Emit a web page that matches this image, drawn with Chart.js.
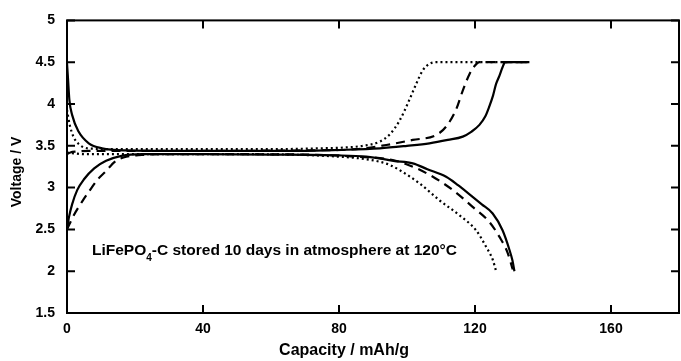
<!DOCTYPE html>
<html>
<head>
<meta charset="utf-8">
<script src="https://cdn.jsdelivr.net/npm/chart.js@4.4.1/dist/chart.umd.min.js"></script>
<style>
  html, body { margin: 0; padding: 0; background: #fff; }
  #wrap { width: 681px; height: 361px; }
</style>
</head>
<body>
<div id="wrap"><canvas id="chart" width="681" height="361"></canvas></div>
<script>
// tick values
const xTicks = [0, 40, 80, 120, 160];
const yTicks = [1.5, 2, 2.5, 3, 3.5, 4, 4.5, 5];

// solid line (charge rises to 4.5 V, discharge falls to 2 V)
const solidUpX = [0, 0.3, 0.7, 1.5, 3.4, 6.4, 10.3, 17, 30, 50, 70, 80, 92, 100, 106.6, 112, 116.4, 119, 121.3, 123, 124.2, 125.3, 126.2, 127.2, 128.1, 128.9, 136];
const solidUpY = [4.49, 4.3, 4.05, 3.87, 3.67, 3.53, 3.47, 3.445, 3.44, 3.44, 3.44, 3.45, 3.47, 3.5, 3.53, 3.57, 3.61, 3.67, 3.75, 3.85, 3.97, 4.1, 4.24, 4.34, 4.44, 4.5, 4.5];
const solidDownX = [0, 0.6, 1.5, 3, 5, 8, 11.5, 16, 22, 40, 60, 80, 88, 91.9, 96, 101.7, 106, 111.5, 115, 119.3, 122, 125.2, 128.1, 130.1, 131, 131.6];
const solidDownY = [2.5, 2.65, 2.8, 2.97, 3.1, 3.23, 3.32, 3.38, 3.4, 3.4, 3.395, 3.385, 3.37, 3.35, 3.32, 3.29, 3.22, 3.13, 3.03, 2.89, 2.8, 2.69, 2.49, 2.26, 2.13, 2.0];

// dashed line
const dashUpX = [0, 1, 2.5, 10, 40, 70, 85, 93.9, 101.7, 108.6, 111.5, 114.4, 116.4, 118.4, 120, 121.3, 136];
const dashUpY = [3.4, 3.42, 3.43, 3.44, 3.44, 3.445, 3.46, 3.51, 3.57, 3.63, 3.73, 3.93, 4.16, 4.36, 4.46, 4.5, 4.5];
const dashDownX = [0, 2, 4.4, 6.4, 9.3, 11.3, 14.1, 16.6, 22, 30, 40, 70, 85, 95.8, 101.7, 107.6, 113.5, 119.3, 124.2, 127.2, 129.6, 131.1];
const dashDownY = [2.5, 2.67, 2.83, 2.95, 3.11, 3.19, 3.31, 3.36, 3.39, 3.4, 3.4, 3.395, 3.37, 3.33, 3.25, 3.13, 2.97, 2.77, 2.59, 2.41, 2.22, 2.02];

// dotted line
const dotUpX = [0, 0.8, 2, 3.5, 5, 8, 15, 60, 75, 82, 87, 92, 95, 97.8, 100.7, 102.7, 104.6, 106.6, 108.6, 136];
const dotUpY = [3.93, 3.75, 3.6, 3.52, 3.48, 3.465, 3.46, 3.46, 3.47, 3.48, 3.5, 3.55, 3.64, 3.8, 4.05, 4.24, 4.4, 4.48, 4.5, 4.5];
const dotDownX = [0, 2, 5, 20, 50, 70, 80, 86, 91.9, 95, 97.8, 103.7, 109.5, 115.4, 120.3, 123.3, 125.2, 126.2];
const dotDownY = [3.42, 3.41, 3.4, 3.4, 3.4, 3.39, 3.37, 3.35, 3.31, 3.27, 3.21, 3.05, 2.85, 2.67, 2.49, 2.29, 2.14, 2.0];

const FONT = "'Liberation Sans', Arial, sans-serif";

function pts(xs, ys) {
    return xs.map((v, i) => ({ x: v, y: ys[i] }));
}

function series(label, xs, ys, dash) {
    return {
        label: label,
        data: pts(xs, ys),
        showLine: true,
        borderColor: '#000',
        borderWidth: 2.2,
        borderDash: dash,
        pointRadius: 0,
        fill: false,
        cubicInterpolationMode: 'monotone'
    };
}

// frame, inward ticks, axis titles and the note
const framePlugin = {
    id: 'framePlugin',
    afterDraw(chart) {
        const ctx = chart.ctx;
        const a = chart.chartArea;
        const x = chart.scales.x;
        const y = chart.scales.y;
        ctx.save();
        ctx.strokeStyle = '#000';
        ctx.lineWidth = 2;
        ctx.strokeRect(a.left, a.top, a.right - a.left, a.bottom - a.top);
        ctx.beginPath();
        xTicks.forEach(v => {
            const px = x.getPixelForValue(v);
            ctx.moveTo(px, a.bottom); ctx.lineTo(px, a.bottom - 8);
            ctx.moveTo(px, a.top); ctx.lineTo(px, a.top + 8);
        });
        yTicks.forEach(v => {
            const py = y.getPixelForValue(v);
            ctx.moveTo(a.left, py); ctx.lineTo(a.left + 8, py);
            ctx.moveTo(a.right, py); ctx.lineTo(a.right - 8, py);
        });
        ctx.stroke();

        ctx.fillStyle = '#000';
        ctx.textBaseline = 'alphabetic';
        ctx.textAlign = 'center';
        ctx.font = 'bold 16px ' + FONT;
        ctx.fillText('Capacity / mAh/g', 344, 355);

        ctx.save();
        ctx.font = 'bold 14px ' + FONT;
        ctx.translate(21, 172);
        ctx.rotate(-Math.PI / 2);
        ctx.fillText('Voltage / V', 0, 0);
        ctx.restore();

        // note with subscript
        ctx.textAlign = 'left';
        let tx = 92;
        ctx.font = 'bold 15.5px ' + FONT;
        ctx.fillText('LiFePO', tx, 255);
        tx += ctx.measureText('LiFePO').width;
        ctx.font = 'bold 10px ' + FONT;
        ctx.fillText('4', tx, 261);
        tx += ctx.measureText('4').width;
        ctx.font = 'bold 15.5px ' + FONT;
        ctx.fillText('-C stored 10 days in atmosphere at 120\u00B0C', tx, 255);
        ctx.restore();
    }
};

const ctx = document.getElementById('chart').getContext('2d');
const chart = new Chart(ctx, {
    type: 'scatter',
    data: {
        datasets: [
            series('solid charge', solidUpX, solidUpY, []),
            series('solid discharge', solidDownX, solidDownY, []),
            series('dashed charge', dashUpX, dashUpY, [9, 6]),
            series('dashed discharge', dashDownX, dashDownY, [9, 6]),
            series('dotted charge', dotUpX, dotUpY, [2, 3]),
            series('dotted discharge', dotDownX, dotDownY, [2, 3])
        ]
    },
    options: {
        responsive: false,
        animation: false,
        layout: { padding: { top: 20, right: 2, left: 0, bottom: 0 } },
        plugins: {
            legend: { display: false },
            tooltip: { enabled: false }
        },
        scales: {
            x: {
                type: 'linear',
                min: 0,
                max: 180,
                grid: { display: false, drawTicks: false },
                border: { display: false },
                afterBuildTicks: s => { s.ticks = xTicks.map(v => ({ value: v })); },
                afterFit: s => { s.height = 48; },
                ticks: {
                    color: '#000',
                    padding: 8,
                    maxRotation: 0,
                    callback: v => String(v),
                    font: { family: FONT, size: 14, weight: 'bold' }
                }
            },
            y: {
                type: 'linear',
                min: 1.5,
                max: 5,
                grid: { display: false, drawTicks: false },
                border: { display: false },
                afterBuildTicks: s => { s.ticks = yTicks.map(v => ({ value: v })); },
                afterFit: s => { s.width = 67; },
                ticks: {
                    color: '#000',
                    padding: 12,
                    callback: v => String(v),
                    font: { family: FONT, size: 14, weight: 'bold' }
                }
            }
        }
    },
    plugins: [framePlugin]
});
</script>
</body>
</html>
